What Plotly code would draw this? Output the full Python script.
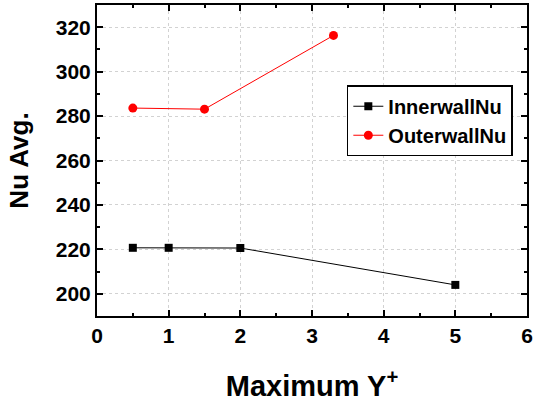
import plotly.graph_objects as go

inner_x = [0.5, 1, 2, 5]
inner_y = [220.7, 220.7, 220.6, 204.0]
outer_x = [0.5, 1.5, 3.3]
outer_y = [283.6, 283.1, 316.3]

FONT = "Liberation Sans, Arial, sans-serif"

fig = go.Figure()
fig.add_trace(go.Scatter(x=inner_x, y=inner_y, mode="lines+markers", name="InnerwallNu",
                         line=dict(color="black", width=1),
                         marker=dict(symbol="square", size=8, color="black")))
fig.add_trace(go.Scatter(x=outer_x, y=outer_y, mode="lines+markers", name="OuterwallNu",
                         line=dict(color="#ff0000", width=1),
                         marker=dict(symbol="circle", size=9, color="#ff0000")))

axis_common = dict(showline=True, linecolor="black", linewidth=2, mirror="allticks",
                   ticks="inside", ticklen=6, tickwidth=1.5, tickcolor="black",
                   showgrid=True, gridcolor="#d2d2d2", griddash="3px,3px", gridwidth=1,
                   zeroline=False, automargin=False,
                   tickfont=dict(family=FONT, size=21, color="black", weight="bold"))

fig.update_xaxes(range=[0, 6], dtick=1, tick0=0,
                 minor=dict(dtick=0.5, ticks="inside", ticklen=3, tickcolor="black", showgrid=False),
                 title=dict(text="Maximum Y<sup>+</sup>", font=dict(family=FONT, size=29, color="black", weight="bold"), standoff=32),
                 **axis_common)
fig.update_yaxes(range=[190, 330], dtick=20, tick0=200,
                 minor=dict(dtick=10, ticks="inside", ticklen=3, tickcolor="black", showgrid=False),
                 title=dict(text="Nu Avg.", font=dict(family=FONT, size=26, color="black", weight="bold"), standoff=20),
                 **axis_common)

fig.update_layout(width=533, height=402, margin=dict(l=97, r=6, t=5, b=86),
                  paper_bgcolor="white", plot_bgcolor="white",
                  legend=dict(x=0.581, y=0.742, xanchor="left", yanchor="top",
                              bordercolor="black", borderwidth=1.5, bgcolor="white",
                              font=dict(family=FONT, size=20, color="black", weight="bold"),
                              tracegroupgap=0, itemwidth=30),
                  showlegend=True)

fig.write_html("out.html", config={"displayModeBar": False},
               post_script="document.body.style.margin='0';document.body.style.overflow='hidden';")
